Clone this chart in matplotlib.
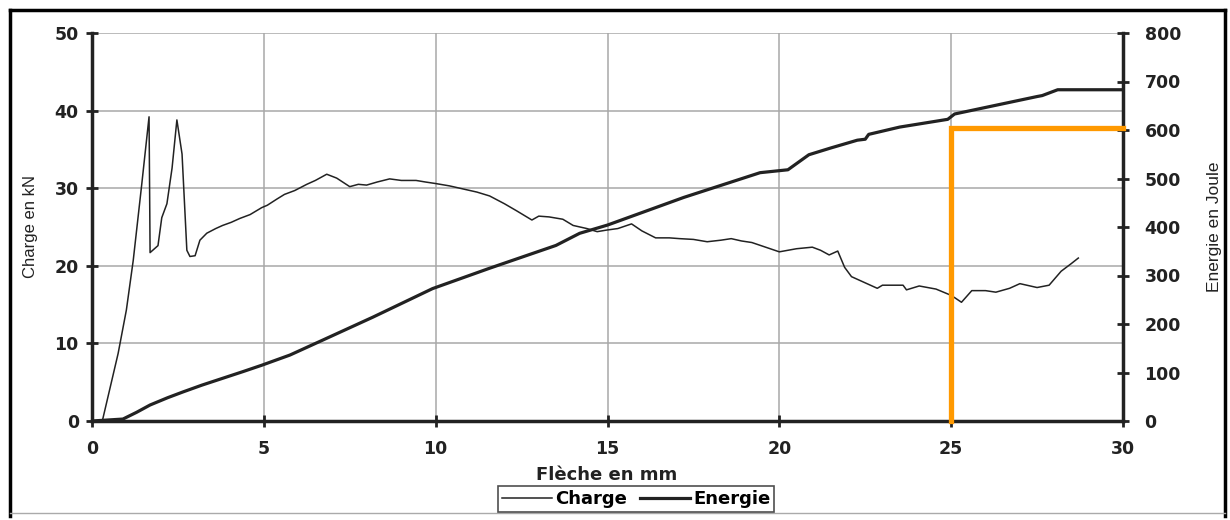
import numpy as np
import matplotlib.pyplot as plt
from matplotlib.lines import Line2D

# load curve (kN) vs deflection (mm)
charge_x = [0.3, 0.76, 1.0, 1.2, 1.45, 1.66, 1.69, 1.92, 2.03, 2.18, 2.33, 2.47, 2.62, 2.76,
            2.85, 3.0, 3.14, 3.34, 3.6, 3.8, 4.05, 4.3, 4.6, 4.94, 5.1, 5.38, 5.6, 5.9, 6.25,
            6.5, 6.83, 7.12, 7.5, 7.75, 7.99, 8.3, 8.66, 9.0, 9.43, 9.7, 10.0, 10.4, 10.8,
            11.2, 11.57, 12.0, 12.35, 12.8, 13.0, 13.3, 13.7, 14.0, 14.4, 14.7, 14.97, 15.3,
            15.7, 16.0, 16.4, 16.8, 17.1, 17.5, 17.9, 18.3, 18.6, 18.9, 19.2, 19.6, 20.0,
            20.5, 20.96, 21.2, 21.45, 21.7, 21.9, 22.1, 22.4, 22.85, 23.0, 23.6, 23.7, 24.07,
            24.56, 24.94, 25.1, 25.3, 25.6, 26.0, 26.3, 26.7, 27.0, 27.5, 27.85, 28.2, 28.5,
            28.7]
charge_y = [0, 8.7, 14.3, 20.7, 30.6, 39.2, 21.7, 22.6, 26.2, 28.0, 32.6, 38.8, 34.4, 22.0,
            21.2, 21.3, 23.3, 24.2, 24.8, 25.2, 25.6, 26.1, 26.6, 27.5, 27.8, 28.6, 29.2, 29.7,
            30.5, 31.0, 31.8, 31.3, 30.2, 30.5, 30.4, 30.8, 31.2, 31.0, 31.0, 30.8, 30.6, 30.3,
            29.9, 29.5, 29.0, 28.0, 27.1, 25.9, 26.4, 26.3, 26.0, 25.2, 24.8, 24.4, 24.6, 24.8,
            25.4, 24.5, 23.6, 23.6, 23.5, 23.4, 23.1, 23.3, 23.5, 23.2, 23.0, 22.4, 21.8,
            22.2, 22.4, 22.0, 21.4, 21.9, 19.8, 18.6, 18.0, 17.1, 17.5, 17.5, 16.9, 17.4,
            17.0, 16.3, 15.9, 15.3, 16.8, 16.8, 16.6, 17.1, 17.7, 17.2, 17.5, 19.3, 20.3,
            21.0]

# energy curve (J)
energie_x = [0, 0.9, 1.3, 1.69, 2.2, 2.65, 3.2, 3.8, 4.4, 4.94, 5.76, 6.72, 8.17, 9.91,
             11.57, 13.5, 14.19, 15.0, 17.22, 19.44, 20.25, 20.86, 21.5, 22.27, 22.5, 22.6,
             23.5, 24.9, 25.1, 26.3, 27.5, 27.65, 28.1, 30.0]
energie_y = [0, 4, 18, 33, 48, 60, 74, 88, 102, 115, 136, 167, 214, 273,
             315, 362, 387, 404, 461, 512, 518, 549, 563, 579, 581, 591,
             606, 622, 633, 651, 669, 671, 683, 683]

# orange marker
mark_x = 25
mark_e = 605

plt.rcParams['font.family'] = ['DejaVu Sans']
ink = '#222222'

fig = plt.figure(figsize=(12.3, 5.2), dpi=100)
ax = fig.add_axes([92/1230, 99/520, (1123-92)/1230, (421-33)/520])
ax2 = ax.twinx()

ax.set_xlim(0, 30)
ax.set_ylim(0, 50)
ax2.set_ylim(0, 800)
ax.set_xticks(range(0, 31, 5))
ax.set_yticks(range(0, 51, 10))
ax2.set_yticks(range(0, 801, 100))

ax.grid(True, color='#a8a8a8', lw=1.1)
ax.set_axisbelow(True)

l1, = ax.plot(charge_x, charge_y, color=ink, lw=1.1)
l2, = ax2.plot(energie_x, energie_y, color=ink, lw=2.3)
ax2.plot([mark_x, mark_x, 30], [0, mark_e, mark_e], color='#ff9900', lw=3.8,
         solid_joinstyle='miter', zorder=5, clip_on=False)

for a in (ax, ax2):
    a.spines['top'].set_visible(False)
    for s in ('left', 'right', 'bottom'):
        a.spines[s].set_linewidth(2.5)
        a.spines[s].set_color(ink)
ax.spines['right'].set_visible(False)
ax2.spines['left'].set_visible(False)
ax2.spines['bottom'].set_visible(False)

ax.tick_params(axis='both', direction='inout', length=9, width=2, color=ink)
ax.tick_params(axis='y', pad=5)
ax.tick_params(axis='x', pad=9)
ax2.tick_params(axis='y', direction='inout', length=9, width=2, color=ink, pad=11)
for lab in ax.get_xticklabels() + ax.get_yticklabels() + ax2.get_yticklabels():
    lab.set_fontweight('bold')
    lab.set_fontsize(12.5)
    lab.set_color(ink)

side = ['Liberation Sans Narrow', 'Liberation Sans', 'DejaVu Sans']
fig.text(30/1230, 1 - 227/520, 'Charge en kN', rotation=90, ha='center', va='center',
         family=side, fontsize=12, color=ink)
fig.text(1215/1230, 1 - 227/520, 'Energie en Joule', rotation=90, ha='center', va='center',
         family=side, fontsize=12.5, color=ink)
fig.text(607/1230, 1 - 475/520, 'Flèche en mm', ha='center', va='center',
         fontsize=13, fontweight='bold', color=ink)

leg = fig.legend([l1, l2], ['Charge', 'Energie'], loc='center', ncol=2,
                 bbox_to_anchor=(636/1230, 1 - 499/520), frameon=True, fancybox=False,
                 prop={'weight': 'bold', 'size': 13}, handlelength=2.8, handletextpad=0.15,
                 columnspacing=0.7, borderpad=0.2)
leg.get_frame().set_edgecolor(ink)
leg.get_frame().set_linewidth(1.2)

# outer frame
fig.add_artist(Line2D([10/1230, 10/1230], [4/520, 1 - 10/520], transform=fig.transFigure, color='black', lw=2.5))
fig.add_artist(Line2D([10/1230, 1225/1230], [1 - 10/520, 1 - 10/520], transform=fig.transFigure, color='black', lw=2.5))
fig.add_artist(Line2D([1225/1230, 1225/1230], [4/520, 1 - 10/520], transform=fig.transFigure, color='black', lw=2.5))
fig.add_artist(Line2D([10/1230, 1225/1230], [7/520, 7/520], transform=fig.transFigure, color='#aaaaaa', lw=1))

fig.savefig('out.png', dpi=100)
